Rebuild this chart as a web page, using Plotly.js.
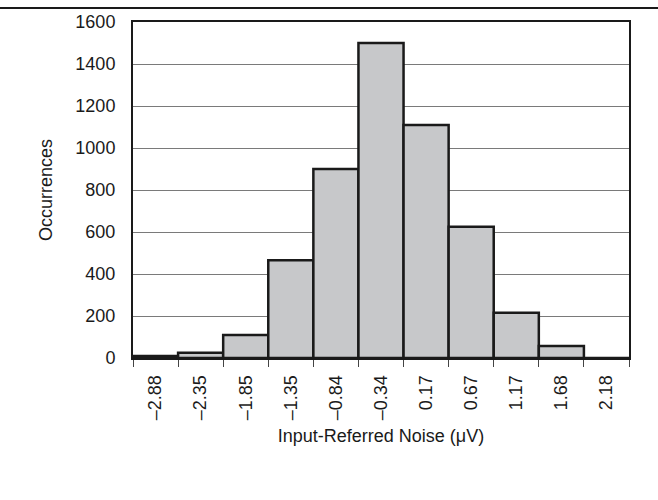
<!DOCTYPE html>
<html>
<head>
<meta charset="utf-8">
<script src="https://cdn.plot.ly/plotly-3.0.1.min.js"></script>
<style>html,body{margin:0;padding:0;background:#fff;}#chart{width:658px;height:500px;}</style>
</head>
<body>
<div id="chart"></div>
<script>
const categories = ["–2.88", "–2.35", "–1.85", "–1.35", "–0.84", "–0.34", "0.17", "0.67", "1.17", "1.68", "2.18"];
const occurrences = [10, 25, 110, 465, 900, 1500, 1110, 625, 215, 57, 0];
const yTickVals = [0, 200, 400, 600, 800, 1000, 1200, 1400, 1600];

const trace = {
  type: 'bar',
  x: categories,
  y: occurrences,
  marker: { color: '#c7c8ca', line: { color: '#1a1a1a', width: 2.5 } },
  hoverinfo: 'x+y'
};

const layout = {
  width: 658, height: 500,
  margin: { l: 133, r: 29, t: 22, b: 142 },
  paper_bgcolor: '#ffffff', plot_bgcolor: '#ffffff',
  font: { family: 'Liberation Sans, Arial, sans-serif', size: 18, color: '#1a1a1a' },
  bargap: 0,
  showlegend: false,
  xaxis: {
    type: 'category',
    tickangle: -90,
    tickfont: { size: 18 },
    ticks: 'outside', ticklen: 7, tickwidth: 1, tickcolor: '#444',
    tickson: 'boundaries',
    ticklabelstandoff: 8,
    showline: true, linecolor: '#1a1a1a', linewidth: 2, mirror: true,
    showgrid: false,
    title: { text: 'Input-Referred Noise (μV)', font: { size: 18 }, standoff: 10 },
    automargin: false
  },
  yaxis: {
    range: [0, 1600],
    tickvals: yTickVals,
    tickfont: { size: 18 },
    ticks: '', ticklabelstandoff: 12,
    showline: true, linecolor: '#1a1a1a', linewidth: 2, mirror: true,
    showgrid: true, gridcolor: '#7a7a7a', gridwidth: 1,
    zeroline: false,
    title: { text: 'Occurrences', font: { size: 18 }, standoff: 18 },
    automargin: false
  },
  shapes: [{
    type: 'line', xref: 'paper', yref: 'paper',
    x0: -133/496, x1: 525/496, y0: 350/336, y1: 350/336,
    line: { color: '#1a1a1a', width: 2 }
  }]
};

Plotly.newPlot('chart', [trace], layout, { displayModeBar: false, staticPlot: true });
</script>
</body>
</html>
